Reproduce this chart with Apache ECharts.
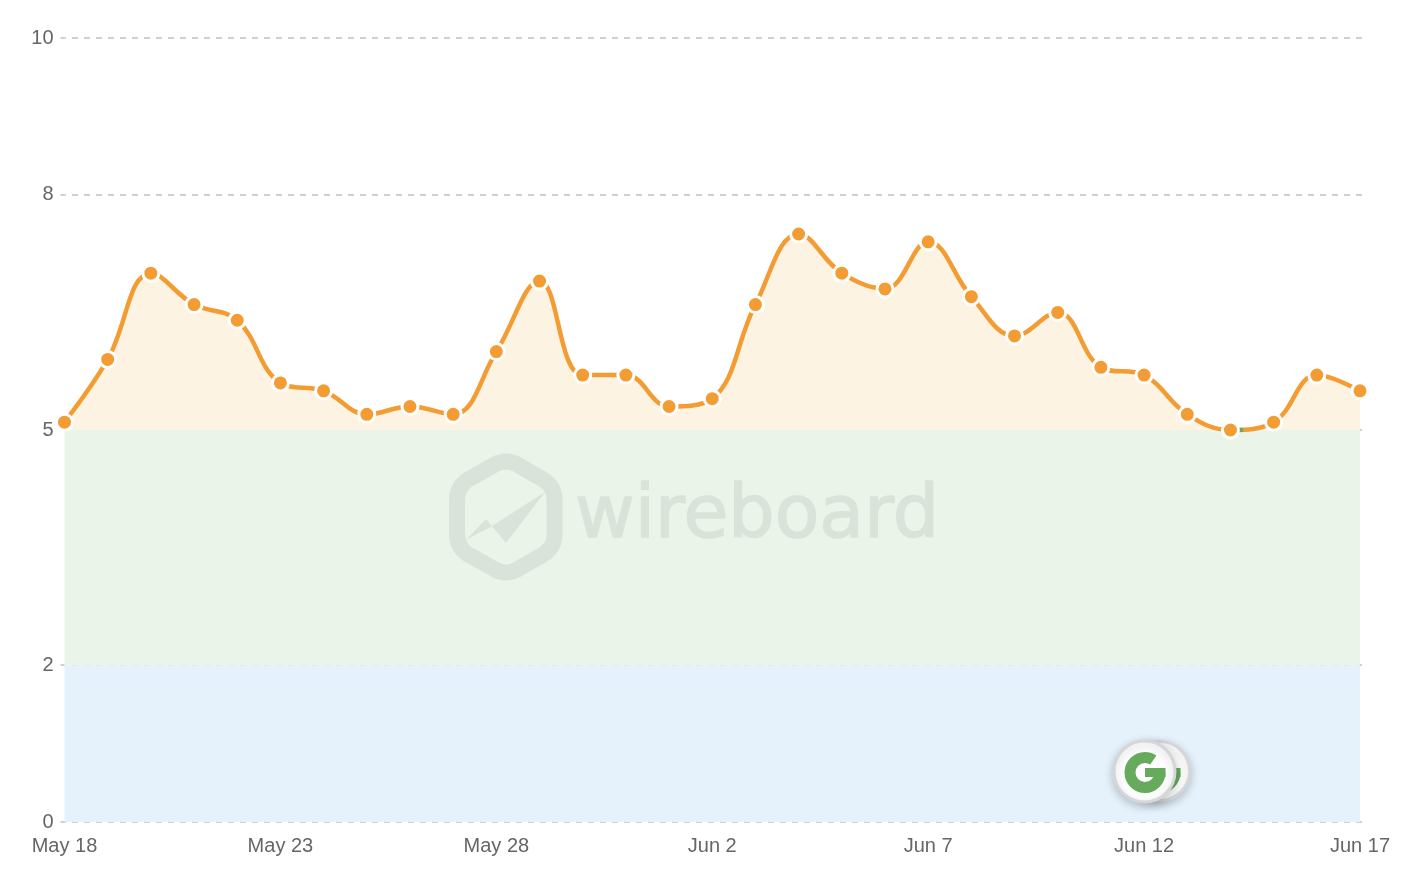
<!DOCTYPE html>
<html lang="en">
<head>
    <meta charset="UTF-8">
    <title></title>
    <style>
        html, body { margin: 0; padding: 0; background: #fff; }
    </style>
</head>
<body>
<div id="container" style="width: 1416px;height:892px;"></div>

<script src="https://cdn.jsdelivr.net/npm/echarts@6/dist/echarts.min.js"></script>
<script type="text/javascript">

// days along the x axis
var categories = ['May 18','May 19','May 20','May 21','May 22','May 23','May 24','May 25','May 26','May 27',
  'May 28','May 29','May 30','May 31','Jun 1','Jun 2','Jun 3','Jun 4','Jun 5','Jun 6',
  'Jun 7','Jun 8','Jun 9','Jun 10','Jun 11','Jun 12','Jun 13','Jun 14','Jun 15','Jun 16','Jun 17'];
// values
var values = [5.1,5.9,7.0,6.6,6.4,5.6,5.5,5.2,5.3,5.2,
  6.0,6.9,5.7,5.7,5.3,5.4,6.6,7.5,7.0,6.8,
  7.4,6.7,6.2,6.5,5.8,5.7,5.2,5.0,5.1,5.7,5.5];
var yTicks = [0,2,5,8,10];
var threshold = 5;
var lowLimit = 2;
// the stretch after Jun 14 where the line shows green
var greenFrom = 27.2;
var greenTo = 27.3;

var orange = '#f39c33';
var green = '#66ab5c';
var logoColor = '#d9e3da';
var gridColor = '#d0d0d0';
var font = '"Liberation Sans", Arial, sans-serif';

// x is a plain day number so the green stretch can start between two days
var points = values.map(function (v, i) {
  return [i, v];
});

// hexagon of the watermark, corners rounded by sampling a curve at each one
function roundedOutline(corners, cut) {
  var out = [];
  var n = corners.length;
  for (var i = 0; i < n; i++) {
    var c = corners[i];
    var prev = corners[(i + n - 1) % n];
    var next = corners[(i + 1) % n];
    var lenA = Math.hypot(prev[0] - c[0], prev[1] - c[1]);
    var lenB = Math.hypot(next[0] - c[0], next[1] - c[1]);
    var a = [c[0] + (prev[0] - c[0]) * cut / lenA, c[1] + (prev[1] - c[1]) * cut / lenA];
    var b = [c[0] + (next[0] - c[0]) * cut / lenB, c[1] + (next[1] - c[1]) * cut / lenB];
    for (var t = 0; t <= 1; t += 0.125) {
      out.push([
        (1 - t) * (1 - t) * a[0] + 2 * t * (1 - t) * c[0] + t * t * b[0],
        (1 - t) * (1 - t) * a[1] + 2 * t * (1 - t) * c[1] + t * t * b[1]
      ]);
    }
  }
  return out;
}

// one google "G" icon, drawn from an arc and a bar
function googleMark(cx, cy, z) {
  return [
    {
      type: 'arc',
      z: z,
      shape: {cx: cx, cy: cy, r: 15, startAngle: 0, endAngle: 5.3},
      style: {fill: 'none', stroke: green, lineWidth: 11}
    },
    {
      type: 'rect',
      z: z,
      shape: {x: cx, y: cy - 4.5, width: 20.5, height: 9},
      style: {fill: green}
    }
  ];
}

var dom = document.getElementById("container");
var myChart = echarts.init(dom);

var option = {
    animation: false,
    grid: {left: 64.5, right: 56, top: 38, bottom: 70},
    xAxis: {
        type: 'value',
        min: 0,
        max: categories.length - 1,
        interval: 5,
        axisLine: {show: false},
        axisTick: {show: false},
        splitLine: {show: false},
        axisLabel: {
            color: '#666',
            fontSize: 20,
            fontFamily: font,
            margin: 14,
            formatter: function (i) {
                return categories[i];
            }
        }
    },
    yAxis: [
        {
            type: 'value',
            min: 0,
            max: 10,
            axisLine: {show: false},
            axisTick: {show: true, length: 4, customValues: yTicks, lineStyle: {color: gridColor, width: 2}},
            axisLabel: {customValues: yTicks, color: '#666', fontSize: 20, fontFamily: font, margin: 11},
            splitLine: {show: true, lineStyle: {color: gridColor, width: 2, type: [6, 6], dashOffset: 4.5}}
        },
        {
            // only the short ticks on the right side
            type: 'value',
            position: 'right',
            min: 0,
            max: 10,
            axisLine: {show: false},
            axisTick: {show: true, length: 2, customValues: yTicks, lineStyle: {color: gridColor, width: 2}},
            axisLabel: {show: false},
            splitLine: {show: false}
        }
    ],
    visualMap: {
        show: false,
        seriesIndex: 0,
        dimension: 0,
        pieces: [
            {gte: 0, lt: greenFrom, color: orange},
            {gte: greenFrom, lte: greenTo, color: green},
            {gt: greenTo, lte: categories.length - 1, color: orange}
        ]
    },
    series: [
        {
            type: 'line',
            data: points,
            smooth: 0.4,
            showSymbol: false,
            lineStyle: {width: 4.5},
            areaStyle: {color: '#fdf3e3', opacity: 1, origin: threshold},
            markArea: {
                silent: true,
                itemStyle: {opacity: 1},
                data: [
                    [{yAxis: 0, itemStyle: {color: '#e5f2fb'}}, {yAxis: lowLimit}],
                    [{yAxis: lowLimit, itemStyle: {color: '#eaf4e9'}}, {yAxis: threshold}]
                ]
            }
        },
        {
            type: 'scatter',
            data: points,
            symbolSize: 16,
            clip: false,
            z: 5,
            itemStyle: {color: orange, borderColor: '#fff', borderWidth: 3, opacity: 1}
        }
    ],
    graphic: [
        // wireboard watermark
        {
            type: 'polygon',
            z: 10,
            shape: {points: roundedOutline([[506, 458], [554.5, 486], [554.5, 548], [506, 576], [457, 548], [457, 486]], 14)},
            style: {fill: 'none', stroke: logoColor, lineWidth: 16}
        },
        {
            type: 'polygon',
            z: 10,
            shape: {points: [[545, 492], [492, 526], [506, 543]]},
            style: {fill: logoColor}
        },
        {
            type: 'polygon',
            z: 10,
            shape: {points: [[466, 540], [486, 519], [492, 526]]},
            style: {fill: logoColor}
        },
        {
            type: 'text',
            z: 10,
            x: 575,
            y: 555,
            style: {text: 'wireboard', fill: logoColor, stroke: logoColor, lineWidth: 1.5, font: '73px "DejaVu Sans"', verticalAlign: 'bottom'}
        },
        // google badge, back one first
        {
            type: 'circle',
            z: 20,
            shape: {cx: 1160, cy: 771, r: 29.5},
            style: {fill: '#fff', stroke: '#d5d6d9', lineWidth: 3, shadowBlur: 10, shadowOffsetY: 3, shadowColor: 'rgba(0,0,0,0.2)'}
        }
    ].concat(googleMark(1160, 772.5, 21), [
        {
            type: 'circle',
            z: 22,
            shape: {cx: 1144.5, cy: 771.5, r: 30.5},
            style: {fill: '#fff', stroke: '#d5d6d9', lineWidth: 3, shadowBlur: 10, shadowOffsetY: 3, shadowColor: 'rgba(0,0,0,0.2)'}
        }
    ], googleMark(1145, 772.5, 23))
};

myChart.setOption(option);

</script>
</body>
</html>
